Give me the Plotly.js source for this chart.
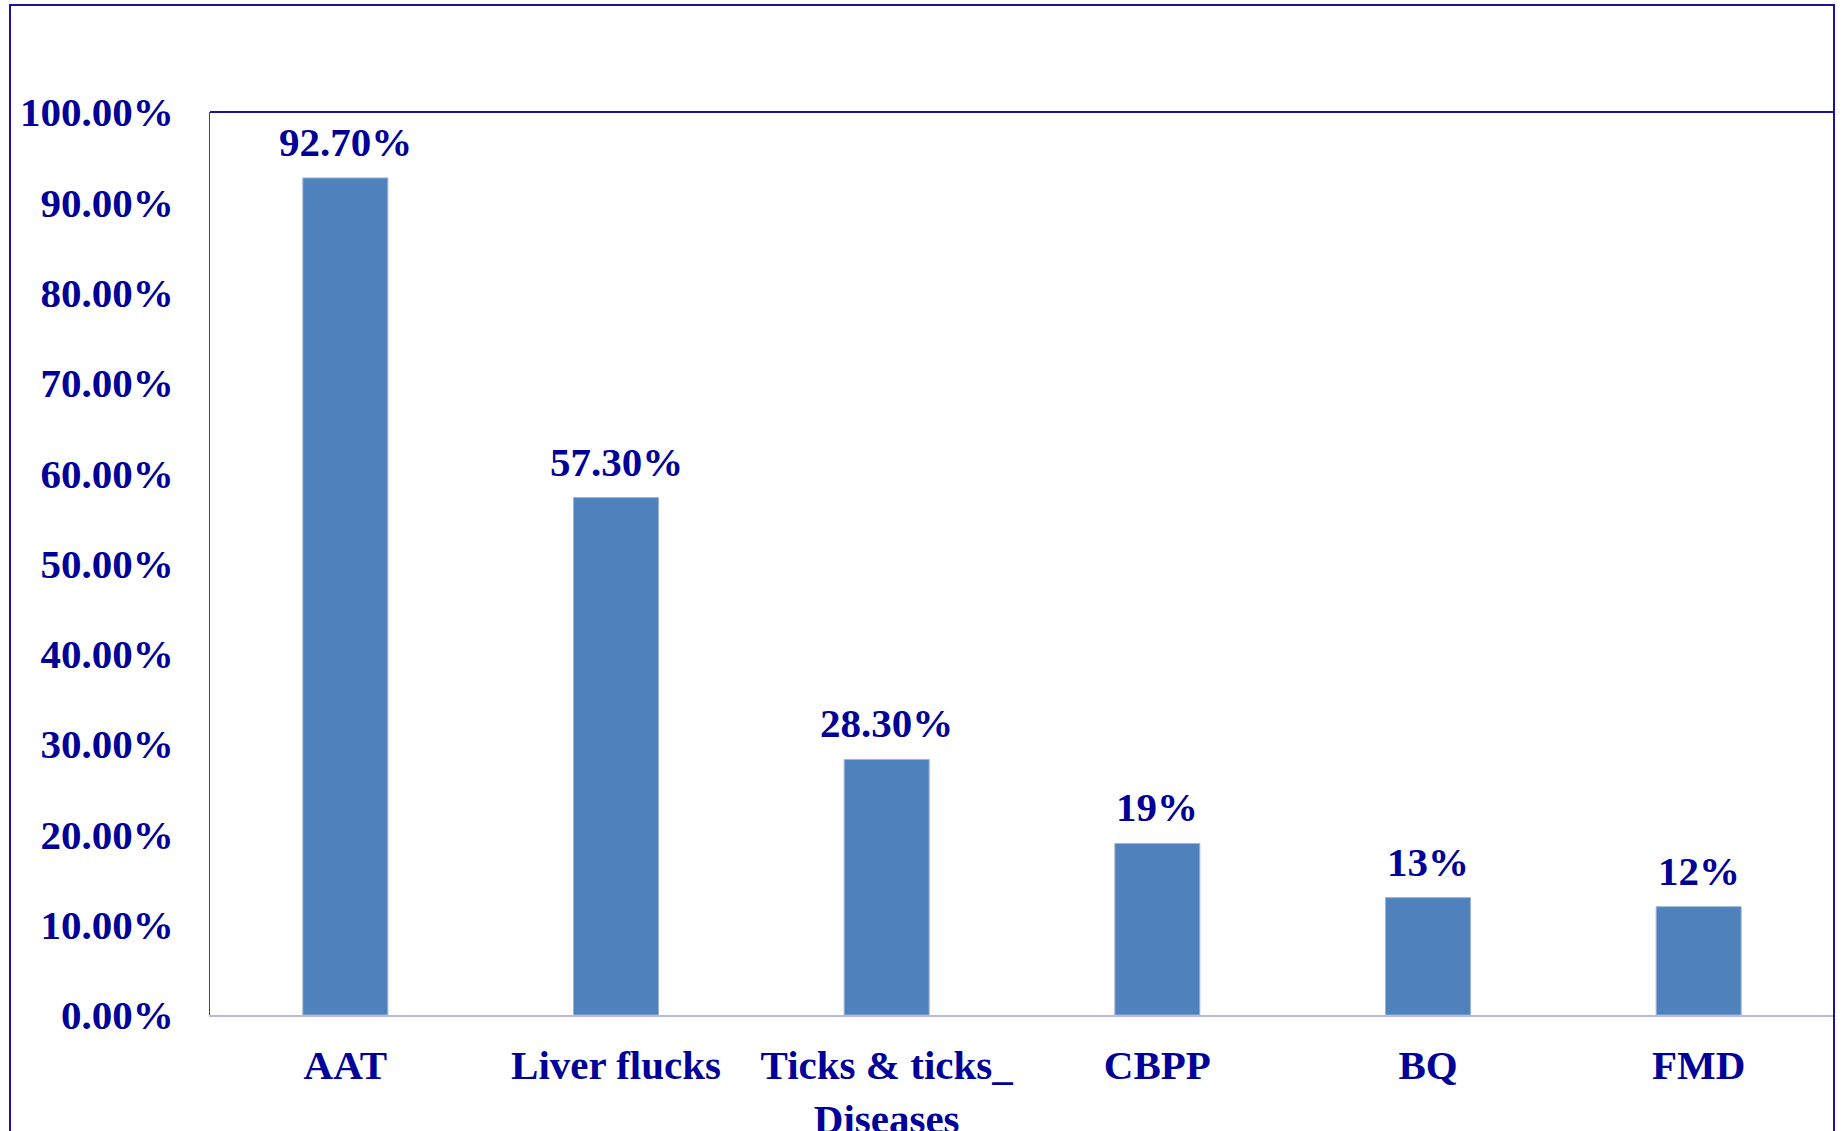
<!DOCTYPE html>
<html>
<head>
<meta charset="utf-8">
<script src="https://cdn.plot.ly/plotly-3.0.1.min.js"></script>
<style>
  html, body { margin: 0; padding: 0; background: #ffffff; }
  #chart { width: 1842px; height: 1131px; }
</style>
</head>
<body>
<div id="chart"></div>
<script>
// Data
var categories = ["AAT", "Liver flucks", "Ticks & ticks_<br>Diseases", "CBPP", "BQ", "FMD"];
var values = [0.927, 0.573, 0.283, 0.19, 0.13, 0.12];
var valueLabels = ["92.70%", "57.30%", "28.30%", "19%", "13%", "12%"];

var navy = "#000099";
var fontFamily = '"Liberation Serif", "Times New Roman", Times, serif';

var trace = {
  type: "bar",
  x: categories,
  y: values,
  marker: { color: "#4f81bd", line: { color: "#9db5d9", width: 1 } },
  hoverinfo: "x+y"
};

var annotations = categories.map(function (c, i) {
  return {
    x: c, y: values[i], xref: "x", yref: "y",
    text: valueLabels[i], showarrow: false,
    yanchor: "bottom", yshift: 11,
    font: { family: fontFamily, size: 41, color: navy, weight: "bold" }
  };
});

var layout = {
  width: 1842, height: 1131,
  margin: { l: 210, r: 8, t: 112, b: 116, pad: 0 },
  paper_bgcolor: "#ffffff", plot_bgcolor: "#ffffff",
  showlegend: false,
  bargap: 0.686,
  font: { family: fontFamily, size: 41, color: navy, weight: "bold" },
  xaxis: {
    type: "category",
    showgrid: false, zeroline: false,
    showline: true, linecolor: "#b8b8e0", linewidth: 2,
    ticks: "", ticklabelstandoff: 13,
    tickfont: { family: fontFamily, size: 41, color: navy, weight: "bold" }
  },
  yaxis: {
    range: [0, 1], dtick: 0.1, tick0: 0,
    tickformat: ".2%",
    showgrid: false, zeroline: false,
    showline: true, linecolor: "#3a3ab0", linewidth: 1,
    ticks: "", ticklabelstandoff: 27,
    tickfont: { family: fontFamily, size: 41, color: navy, weight: "bold" }
  },
  annotations: annotations,
  shapes: [
    { type: "rect", xref: "paper", yref: "paper",
      x0: -0.12315, x1: 1.0, y0: -0.2, y1: 1.1185,
      line: { color: "#2010a0", width: 2 }, fillcolor: "rgba(0,0,0,0)" },
    { type: "line", xref: "paper", yref: "paper",
      x0: 0, x1: 1, y0: 1, y1: 1,
      line: { color: "#2010a0", width: 2 } }
  ]
};

Plotly.newPlot("chart", [trace], layout, { displayModeBar: false, staticPlot: true });
</script>
</body>
</html>
